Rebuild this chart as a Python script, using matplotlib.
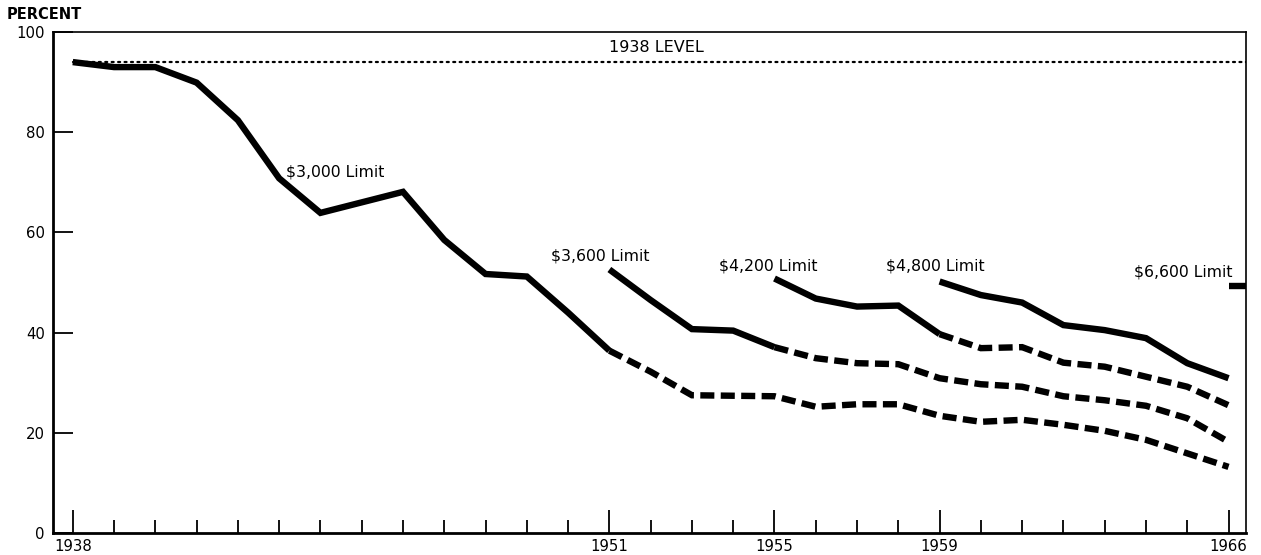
import matplotlib
matplotlib.use("Agg")
import matplotlib.pyplot as plt
import numpy as np

# percent of earnings covered, by year
years_3000 = np.arange(1938, 1967)
pct_3000 = [94.0, 93.0, 93.0, 89.9, 82.4, 70.8, 63.9, 66.0, 68.1, 58.5,
            51.7, 51.2, 44.0, 36.4, 32.2, 27.5, 27.4, 27.3, 25.2, 25.7,
            25.7, 23.4, 22.2, 22.6, 21.6, 20.4, 18.6, 15.9, 13.2]
years_3600 = np.arange(1951, 1967)
pct_3600 = [52.6, 46.5, 40.7, 40.4, 37.1, 34.9, 33.9, 33.7, 30.9, 29.7,
            29.2, 27.3, 26.5, 25.4, 22.9, 18.2]
years_4200 = np.arange(1955, 1967)
pct_4200 = [50.8, 46.8, 45.2, 45.4, 39.7, 36.9, 37.1, 34.0, 33.2, 31.2,
            29.2, 25.5]
years_4800 = np.arange(1959, 1967)
pct_4800 = [50.2, 47.5, 46.0, 41.5, 40.5, 38.9, 33.9, 30.9]
year_6600 = 1966
pct_6600 = 49.4
level_1938 = 94.0

# last year each limit was actually in force (solid up to here, dashed after)
end_solid = {"3000": 1951, "3600": 1955, "4200": 1959, "4800": 1966}

major_years = [1938, 1951, 1955, 1959, 1966]
labels = [("$3,000 Limit", 1943.17, 72.1),
          ("$3,600 Limit", 1949.58, 55.3),
          ("$4,200 Limit", 1953.66, 53.3),
          ("$4,800 Limit", 1957.69, 53.2),
          ("$6,600 Limit", 1963.71, 52.2)]


def draw(ax, yrs, vals, cut):
    yrs = np.asarray(yrs)
    vals = np.asarray(vals)
    s = yrs <= cut
    ax.plot(yrs[s], vals[s], color="black", lw=4.6, solid_joinstyle="miter",
            solid_capstyle="butt")
    d = yrs >= cut
    if d.sum() > 1:
        ax.plot(yrs[d], vals[d], color="black", lw=4.6, dashes=(2.2, 1.0),
                dash_capstyle="butt", dash_joinstyle="miter")


def main():
    plt.rcParams["font.family"] = ["DejaVu Sans"]
    fig = plt.figure(figsize=(12.61, 5.55), dpi=100)
    ax = fig.add_axes([0.042, 0.0396, 0.946, 0.9027])

    xmax = 1966.42
    ax.plot([1938, xmax], [level_1938, level_1938], color="black", lw=1.6,
            dashes=(0.9, 2.0), dash_capstyle="round")
    ax.text(1952.15, 97.0, "1938 LEVEL", fontsize=11.5, ha="center",
            va="center")

    draw(ax, years_3000, pct_3000, end_solid["3000"])
    draw(ax, years_3600, pct_3600, end_solid["3600"])
    draw(ax, years_4200, pct_4200, end_solid["4200"])
    draw(ax, years_4800, pct_4800, end_solid["4800"])
    ax.hlines(pct_6600, year_6600, xmax, color="black", lw=4.6)

    for txt, x, y in labels:
        ax.text(x, y, txt, fontsize=11.3, ha="left", va="center")

    ax.set_xlim(1937.52, xmax)
    ax.set_ylim(0, 100)

    ax.set_xticks(major_years)
    ax.set_xticks(np.arange(1938, 1967), minor=True)
    ax.tick_params(axis="x", which="major", direction="in", length=16.5,
                   width=1.3, labelsize=10.7, pad=4)
    ax.tick_params(axis="x", which="minor", direction="in", length=9.4,
                   width=1.3)
    ax.set_yticks([0, 20, 40, 60, 80, 100])
    ax.tick_params(axis="y", direction="in", length=14.4, width=1.3,
                   labelsize=10.7, pad=6)

    for side in ["left", "bottom"]:
        ax.spines[side].set_linewidth(2.0)
    for side in ["top", "right"]:
        ax.spines[side].set_linewidth(1.2)

    fig.text(0.0056, 0.973, "PERCENT", fontsize=10.5, fontweight="bold",
             ha="left", va="center")

    fig.savefig("out.png", dpi=100)


if __name__ == '__main__':
    main()
